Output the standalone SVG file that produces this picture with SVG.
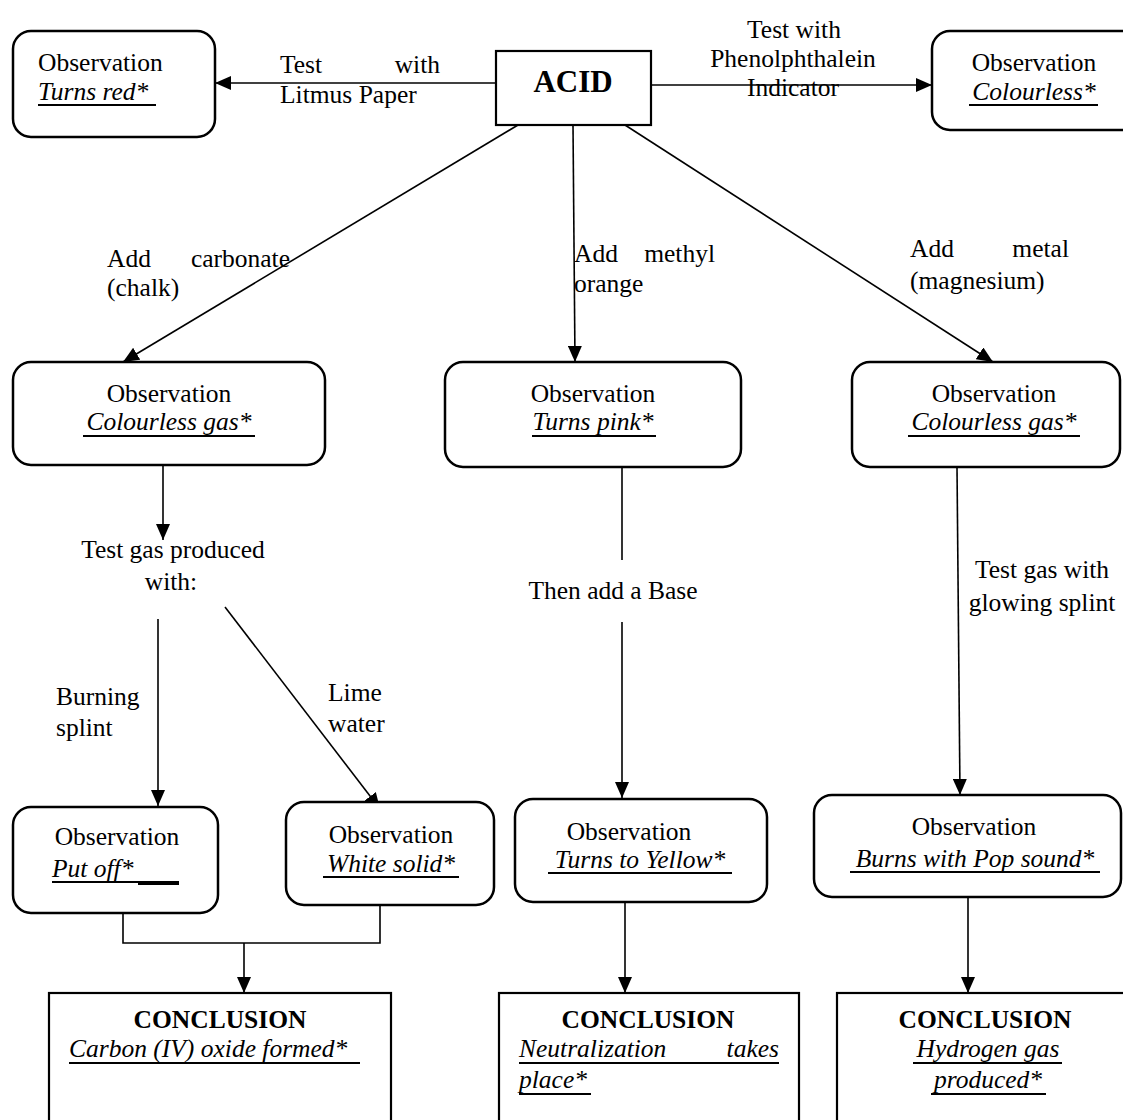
<svg xmlns="http://www.w3.org/2000/svg" width="1123" height="1120" viewBox="0 0 1123 1120">
<defs>
<marker id="ah" viewBox="0 0 16 14" refX="16" refY="7" markerWidth="16" markerHeight="14" markerUnits="userSpaceOnUse" orient="auto">
<path d="M0,0 L16,7 L0,14 z" fill="#000"/>
</marker>
<style>
text{font-family:"Liberation Serif","Times New Roman",serif;font-size:25.5px;fill:#000}
.b{font-weight:bold}
.i{font-style:italic}
.c{text-anchor:middle}
.box{fill:#fff;stroke:#000;stroke-width:2.5}
.sq{fill:#fff;stroke:#000;stroke-width:2.2}
.ul{stroke:#000;stroke-width:2}
.cn{fill:none;stroke:#000;stroke-width:1.6}
.ar{marker-end:url(#ah)}
</style>
</defs>
<rect width="1123" height="1120" fill="#fff"/>

<g id="connectors">
<line class="cn ar" x1="496" y1="83" x2="215" y2="83"/>
<line class="cn ar" x1="651" y1="85" x2="932" y2="85"/>
<line class="cn ar" x1="518" y1="125" x2="123" y2="362"/>
<line class="cn ar" x1="573" y1="125" x2="575" y2="362"/>
<line class="cn ar" x1="625" y1="125" x2="993" y2="362"/>
<line class="cn ar" x1="163" y1="466" x2="163" y2="540"/>
<line class="cn ar" x1="158" y1="619" x2="158" y2="806"/>
<line class="cn ar" x1="225" y1="607" x2="380" y2="809"/>
<line class="cn" x1="622" y1="467" x2="622" y2="560"/>
<line class="cn ar" x1="622" y1="622" x2="622" y2="798"/>
<line class="cn ar" x1="957" y1="467" x2="960" y2="795"/>
<polyline class="cn" points="123,913 123,943 380,943 380,905"/>
<line class="cn ar" x1="244" y1="943" x2="244" y2="993"/>
<line class="cn ar" x1="625" y1="902" x2="625" y2="993"/>
<line class="cn ar" x1="968" y1="897" x2="968" y2="993"/>
</g>

<g id="edge-labels">
<text><tspan x="280" y="73">Test</tspan><tspan x="440" y="73" text-anchor="end">with</tspan></text>
<text x="280" y="103">Litmus Paper</text>
<text class="c" x="794" y="38">Test with</text>
<text class="c" x="793" y="67">Phenolphthalein</text>
<text class="c" x="793" y="96">Indicator</text>
<text><tspan x="107" y="267">Add</tspan><tspan x="290" y="267" text-anchor="end">carbonate</tspan></text>
<text x="107" y="296">(chalk)</text>
<text><tspan x="574" y="262">Add</tspan><tspan x="715" y="262" text-anchor="end">methyl</tspan></text>
<text x="574" y="292">orange</text>
<text><tspan x="910" y="257">Add</tspan><tspan x="1069" y="257" text-anchor="end">metal</tspan></text>
<text x="910" y="289">(magnesium)</text>
<text class="c" x="173" y="558">Test gas produced</text>
<text class="c" x="171" y="590">with:</text>
<text x="56" y="705">Burning</text>
<text x="56" y="736">splint</text>
<text x="328" y="701">Lime</text>
<text x="328" y="732">water</text>
<text class="c" x="613" y="599">Then add a Base</text>
<text class="c" x="1042" y="578">Test gas with</text>
<text class="c" x="1042" y="611">glowing splint</text>
</g>

<g id="acid">
<rect class="sq" x="496" y="51" width="155" height="74"/>
<text class="b c" x="573" y="92" style="font-size:31px">ACID</text>
</g>

<g id="obs-litmus">
<rect class="box" x="13" y="31" width="202" height="106" rx="18"/>
<text x="38" y="71">Observation</text>
<text class="i" x="38" y="100">Turns red*</text>
<line class="ul" x1="38" y1="105" x2="156" y2="105"/>
</g>

<g id="obs-phenol">
<rect class="box" x="932" y="31" width="220" height="99" rx="18"/>
<text class="c" x="1034" y="71">Observation</text>
<text class="i c" x="1034" y="100">Colourless*</text>
<line class="ul" x1="969" y1="105" x2="1098" y2="105"/>
</g>

<g id="obs-carbonate">
<rect class="box" x="13" y="362" width="312" height="103" rx="18"/>
<text class="c" x="169" y="402">Observation</text>
<text class="i c" x="169" y="430">Colourless gas*</text>
<line class="ul" x1="83" y1="436" x2="255" y2="436"/>
</g>

<g id="obs-methyl">
<rect class="box" x="445" y="362" width="296" height="105" rx="18"/>
<text class="c" x="593" y="402">Observation</text>
<text class="i c" x="593" y="430">Turns pink*</text>
<line class="ul" x1="532" y1="436" x2="656" y2="436"/>
</g>

<g id="obs-metal">
<rect class="box" x="852" y="362" width="268" height="105" rx="18"/>
<text class="c" x="994" y="402">Observation</text>
<text class="i c" x="994" y="430">Colourless gas*</text>
<line class="ul" x1="908" y1="436" x2="1080" y2="436"/>
</g>

<g id="obs-burning">
<rect class="box" x="13" y="807" width="205" height="106" rx="18"/>
<text class="c" x="117" y="845">Observation</text>
<text class="i" x="52" y="877">Put off*</text>
<line class="ul" x1="52" y1="882" x2="179" y2="882"/>
<line class="ul" x1="138" y1="884" x2="179" y2="884"/>
</g>

<g id="obs-lime">
<rect class="box" x="286" y="802" width="208" height="103" rx="18"/>
<text class="c" x="391" y="843">Observation</text>
<text class="i c" x="391" y="872">White solid*</text>
<line class="ul" x1="323" y1="877" x2="459" y2="877"/>
</g>

<g id="obs-base">
<rect class="box" x="515" y="799" width="252" height="103" rx="18"/>
<text class="c" x="629" y="840">Observation</text>
<text class="i c" x="640" y="868">Turns to Yellow*</text>
<line class="ul" x1="548" y1="873" x2="732" y2="873"/>
</g>

<g id="obs-splint">
<rect class="box" x="814" y="795" width="307" height="102" rx="18"/>
<text class="c" x="974" y="835">Observation</text>
<text class="i c" x="975" y="867">Burns with Pop sound*</text>
<line class="ul" x1="850" y1="872" x2="1100" y2="872"/>
</g>

<g id="conclusion-co2">
<rect class="sq" x="49" y="993" width="342" height="150"/>
<text class="b c" x="220" y="1028">CONCLUSION</text>
<text class="i" x="69" y="1057">Carbon (IV) oxide formed*</text>
<line class="ul" x1="69" y1="1063" x2="360" y2="1063"/>
</g>

<g id="conclusion-neutral">
<rect class="sq" x="499" y="993" width="300" height="150"/>
<text class="b c" x="648" y="1028">CONCLUSION</text>
<text class="i"><tspan x="519" y="1057">Neutralization</tspan><tspan x="779" y="1057" text-anchor="end">takes</tspan></text>
<line class="ul" x1="519" y1="1063" x2="779" y2="1063"/>
<text class="i" x="519" y="1088">place*</text>
<line class="ul" x1="519" y1="1094" x2="591" y2="1094"/>
</g>

<g id="conclusion-h2">
<rect class="sq" x="837" y="993" width="320" height="150"/>
<text class="b c" x="985" y="1028">CONCLUSION</text>
<text class="i c" x="988" y="1057">Hydrogen gas</text>
<line class="ul" x1="913" y1="1063" x2="1062" y2="1063"/>
<text class="i c" x="988" y="1088">produced*</text>
<line class="ul" x1="931" y1="1094" x2="1046" y2="1094"/>
</g>
</svg>
